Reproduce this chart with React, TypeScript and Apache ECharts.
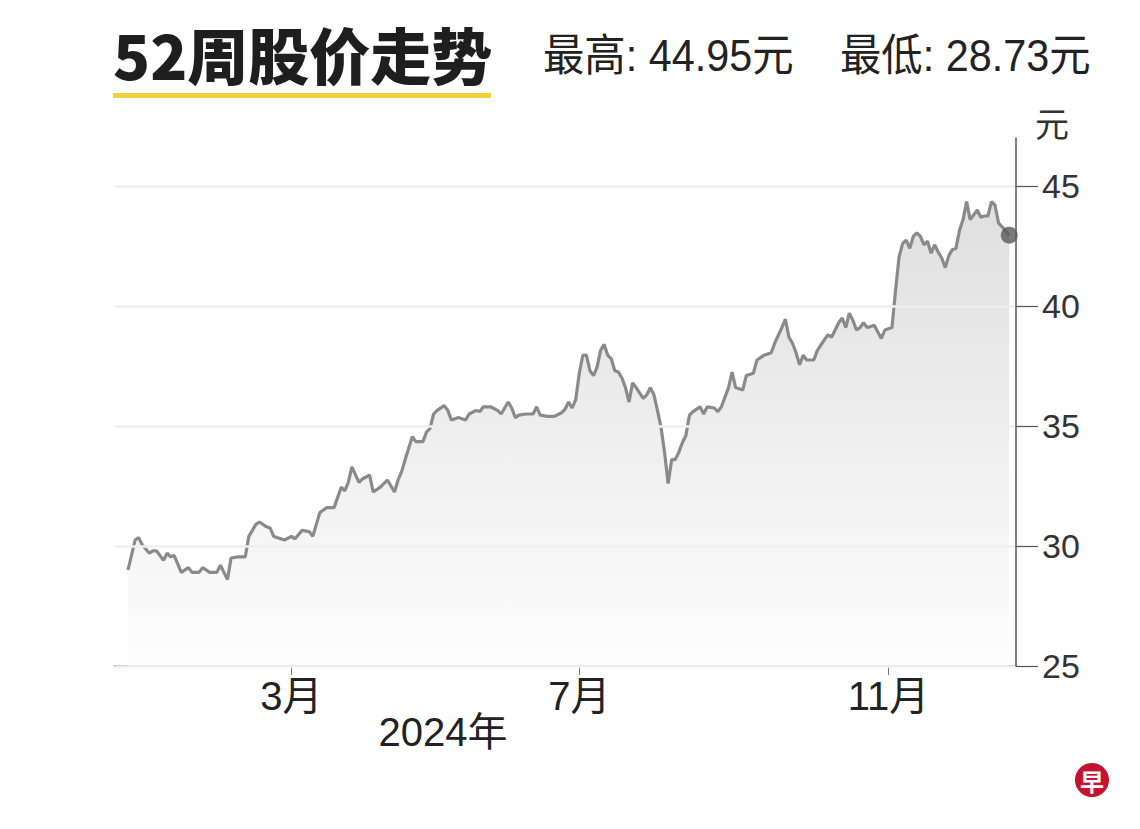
import React, { useEffect, useRef } from "react";
import * as echarts from "echarts";

// trading-day index (0 = first day of the 52-week window) and closing price (元)
const tradingDay = [
  0, 2, 3, 4, 6, 7, 8, 10, 11, 12, 13, 15, 17, 18, 20, 21, 23, 25, 26, 27, 28, 29, 31, 33, 34, 36, 37, 39, 40, 41,
  43, 44, 46, 47, 49, 51, 52, 54, 55, 56, 58, 60, 61, 62, 63, 65, 66, 68, 69, 71, 73, 75, 76, 77, 78, 80, 81, 83, 84,
  85, 86, 87, 89, 90, 91, 93, 95, 96, 98, 99, 100, 102, 104, 105, 107, 108, 109, 110, 112, 114, 115, 116, 118, 120,
  122, 123, 124, 125, 126, 127, 128, 129, 130, 131, 132, 133, 134, 135, 136, 137, 138, 139, 140, 141, 142, 143, 145,
  146, 147, 148, 149, 150, 151, 152, 153, 154, 155, 156, 157, 158, 159, 161, 162, 163, 165, 166, 167, 169, 170, 171,
  173, 174, 176, 177, 179, 181, 182, 184, 185, 186, 187, 188, 189, 190, 191, 193, 194, 196, 197, 198, 200, 201, 202,
  203, 204, 205, 206, 207, 208, 209, 210, 212, 213, 215, 216, 217, 218, 219, 220, 221, 222, 223, 224, 225, 226, 227,
  228, 229, 230, 231, 232, 233, 234, 235, 236, 237, 239, 240, 241, 242, 243, 244, 245, 246, 248,
];
const price = [
  29.0, 30.25, 30.35, 30.05, 29.7, 29.8, 29.8, 29.4, 29.7, 29.55, 29.6, 28.9, 29.1, 28.9, 28.9, 29.1, 28.9, 28.9, 29.2,
  28.9, 28.6, 29.5, 29.55, 29.55, 30.4, 30.9, 31.0, 30.8, 30.75, 30.4, 30.3, 30.25, 30.4, 30.3, 30.65, 30.6, 30.4,
  31.4, 31.5, 31.6, 31.6, 32.45, 32.3, 32.65, 33.3, 32.65, 32.8, 32.95, 32.25, 32.45, 32.75, 32.25, 32.75, 33.1, 33.6,
  34.55, 34.35, 34.35, 34.75, 34.9, 35.5, 35.65, 35.85, 35.65, 35.25, 35.35, 35.25, 35.5, 35.65, 35.6, 35.8, 35.8,
  35.65, 35.5, 36.0, 35.75, 35.35, 35.45, 35.5, 35.5, 35.8, 35.45, 35.4, 35.4, 35.55, 35.7, 36.0, 35.75, 36.1, 37.2,
  37.95, 37.95, 37.3, 37.1, 37.45, 38.15, 38.4, 37.95, 37.8, 37.3, 37.25, 37.0, 36.6, 36.0, 36.8, 36.6, 36.15, 36.3,
  36.6, 36.3, 35.65, 34.95, 33.9, 32.6, 33.6, 33.6, 33.9, 34.3, 34.6, 35.45, 35.6, 35.8, 35.5, 35.8, 35.75, 35.6, 35.8,
  36.6, 37.25, 36.6, 36.5, 37.1, 37.2, 37.75, 37.95, 38.05, 38.45, 39.1, 39.45, 38.7, 38.45, 38.05, 37.55, 37.95,
  37.75, 37.75, 38.15, 38.6, 38.8, 38.7, 39.3, 39.5, 39.1, 39.7, 39.4, 39.0, 39.1, 39.3, 39.1, 39.15, 39.2, 38.65,
  39.0, 39.1, 40.65, 42.05, 42.6, 42.75, 42.4, 42.9, 43.05, 42.9, 42.55, 42.7, 42.2, 42.55, 42.25, 42.0, 41.6, 42.1,
  42.35, 42.4, 43.15, 43.6, 44.35, 43.6, 44.0, 43.7, 43.75, 43.75, 44.35, 44.2, 43.45, 43.3, 42.95,
];

// first trading day of each labelled month, and its label
const monthTickDays = [46, 127, 214];
const monthLabels = ["3月", "7月", "11月"];
const yearLabel = "2024年";

const yTicks = [25, 30, 35, 40, 45];
const yUnit = "元";

const title = "52周股价走势";
const highText = "最高: 44.95元";
const lowText = "最低: 28.73元";
const logoChar = "早";

const LATIN = "'Liberation Sans', 'Noto Sans CJK SC', sans-serif";
const CJK = "'Noto Sans CJK SC', sans-serif";

export default function App() {
  const ref = useRef<HTMLDivElement>(null);

  useEffect(() => {
    if (!ref.current) return;
    const chart = echarts.init(ref.current, null, { renderer: "svg" });
    const seriesData = tradingDay.map((d, i) => [d, price[i]]);
    const last = seriesData[seriesData.length - 1];

    chart.setOption({
      animation: false,
      backgroundColor: "#ffffff",
      grid: { left: 115, right: 124, top: 138, bottom: 163 },
      xAxis: {
        type: "value",
        min: -3.66,
        max: 249.9,
        axisLine: { show: true, onZero: false, lineStyle: { color: "#555", width: 1.5 } },
        splitLine: { show: false },
        axisTick: { show: true, customValues: monthTickDays, length: 9, lineStyle: { color: "#777", width: 1 } },
        axisLabel: {
          customValues: monthTickDays,
          formatter: (v: number) => {
            const i = monthTickDays.indexOf(Math.round(v));
            return i >= 0 ? monthLabels[i] : "";
          },
          margin: 10,
          fontSize: 40,
          fontFamily: LATIN,
          color: "#222",
        },
      },
      yAxis: {
        type: "value",
        position: "right",
        min: 25,
        max: 47,
        z: 3,
        axisLine: { show: true, onZero: false, lineStyle: { color: "#555", width: 1.5 } },
        axisTick: { show: true, customValues: yTicks, length: 22, inside: false, lineStyle: { color: "#555", width: 1.2 } },
        axisLabel: { customValues: yTicks, margin: 26, fontSize: 34, fontFamily: LATIN, color: "#333" },
        splitLine: { show: true, lineStyle: { color: "#efefef", width: 2.5 } },
      },
      series: [
        {
          type: "line",
          data: seriesData,
          showSymbol: false,
          smooth: false,
          lineStyle: { color: "#8a8a8a", width: 3.2 },
          itemStyle: { color: "#8a8a8a" },
          areaStyle: {
            color: new echarts.graphic.LinearGradient(0, 0, 0, 1, [
              { offset: 0, color: "#d2d2d2" },
              { offset: 1, color: "#fdfdfd" },
            ]),
          },
          z: 2,
        },
        {
          type: "scatter",
          data: [last],
          symbol: "circle",
          symbolSize: 17,
          itemStyle: { color: "#595959" },
          z: 5,
        },
      ],
      graphic: [
        {
          type: "text",
          x: 113,
          y: 53,
          style: { text: title, font: `900 61px ${CJK}`, fill: "#1e1e1e", align: "left", verticalAlign: "middle" },
        },
        { type: "rect", shape: { x: 113, y: 93, width: 378, height: 5 }, style: { fill: "#f3cf3b" } },
        {
          type: "text",
          x: 543,
          y: 56,
          scaleX: 0.94,
          style: { text: highText, font: `44px ${LATIN}`, fill: "#222", align: "left", verticalAlign: "middle" },
        },
        {
          type: "text",
          x: 840,
          y: 56,
          scaleX: 0.94,
          style: { text: lowText, font: `44px ${LATIN}`, fill: "#222", align: "left", verticalAlign: "middle" },
        },
        {
          type: "text",
          x: 1052,
          y: 122,
          style: { text: yUnit, font: `34px ${CJK}`, fill: "#333", align: "center", verticalAlign: "middle" },
        },
        {
          type: "text",
          x: 443,
          y: 732,
          style: { text: yearLabel, font: `40px ${LATIN}`, fill: "#222", align: "center", verticalAlign: "middle" },
        },
        { type: "circle", shape: { cx: 1092, cy: 780, r: 17 }, style: { fill: "#c4122f" } },
        {
          type: "text",
          x: 1092,
          y: 780,
          style: { text: logoChar, font: `bold 24px ${CJK}`, fill: "#fff", align: "center", verticalAlign: "middle" },
        },
      ],
    });

    return () => chart.dispose();
  }, []);

  return <div ref={ref} style={{ position: "fixed", left: 0, top: 0, width: 1140, height: 829 }} />;
}
